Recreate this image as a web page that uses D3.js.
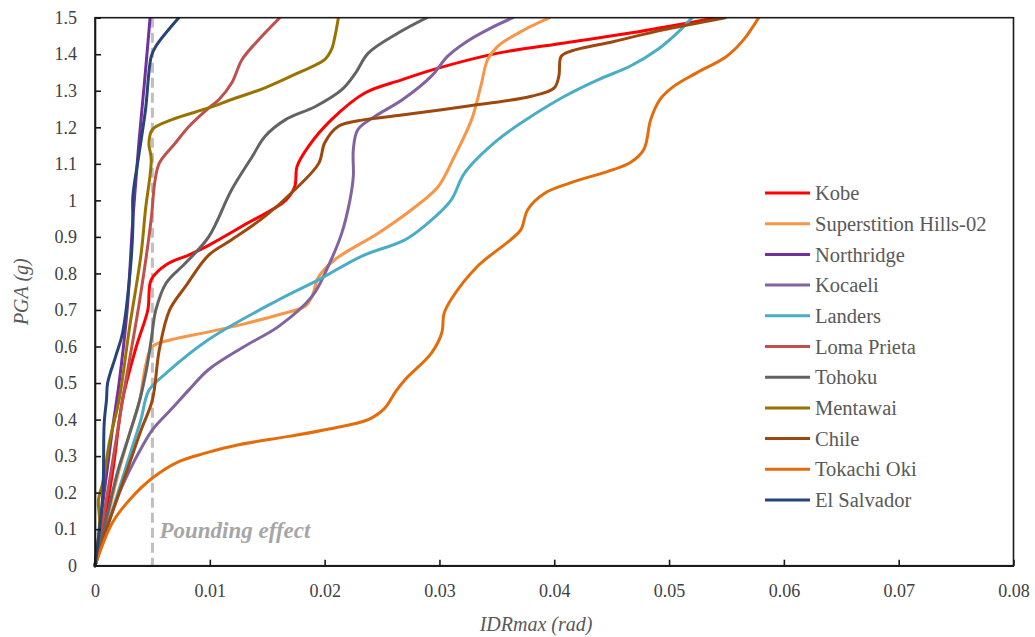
<!DOCTYPE html>
<html>
<head>
<meta charset="utf-8">
<script src="https://cdn.jsdelivr.net/npm/d3@7"></script>
<style>
  html, body { margin: 0; padding: 0; background: #fff; }
  svg { display: block; }
</style>
</head>
<body>
<svg id="chart" width="1035" height="637"></svg>
<script>
// ---------- data ----------
const seriesNames = ["Kobe", "Superstition Hills-02", "Northridge", "Kocaeli", "Landers",
  "Loma Prieta", "Tohoku", "Mentawai", "Chile", "Tokachi Oki", "El Salvador"];
const seriesColors = ["#FF0000", "#F79646", "#7030A0", "#8064A2", "#4BACC6",
  "#C0504D", "#636363", "#997300", "#9E480E", "#E46C0A", "#264478"];

const kobe = [[0,0],[0.0008,0.12],[0.0016,0.27],[0.0024,0.454],[0.0036,0.60],[0.0046,0.70],[0.0049,0.783],[0.0062,0.824],[0.0082,0.851],[0.0099,0.877],[0.0128,0.929],[0.0166,1.0],[0.0174,1.038],[0.0176,1.093],[0.0186,1.148],[0.0206,1.221],[0.0235,1.294],[0.0267,1.33],[0.0299,1.362],[0.0351,1.403],[0.0409,1.431],[0.0466,1.458],[0.0542,1.5]];
const superstition = [[0,0],[0.001,0.12],[0.002,0.25],[0.003,0.36],[0.0039,0.454],[0.0044,0.546],[0.005,0.60],[0.0067,0.619],[0.0099,0.64],[0.013,0.662],[0.016,0.687],[0.0183,0.71],[0.0189,0.737],[0.0195,0.792],[0.0209,0.838],[0.0247,0.911],[0.0276,0.975],[0.0299,1.038],[0.0313,1.12],[0.0328,1.221],[0.0336,1.312],[0.0342,1.385],[0.0351,1.422],[0.0374,1.467],[0.0396,1.5]];
const northridge = [[0,0],[0.0008,0.2],[0.0015,0.37],[0.0021,0.5],[0.0028,0.7],[0.0033,0.95],[0.0038,1.15],[0.0043,1.32],[0.0048,1.5]];
const kocaeli = [[0,0],[0.001,0.1],[0.002,0.19],[0.003,0.26],[0.004,0.32],[0.005,0.372],[0.0067,0.43],[0.0082,0.482],[0.0099,0.537],[0.013,0.6],[0.016,0.655],[0.0189,0.737],[0.0203,0.819],[0.0215,0.911],[0.0222,1.0],[0.0225,1.066],[0.0225,1.139],[0.0229,1.194],[0.0244,1.23],[0.0268,1.276],[0.0293,1.34],[0.0307,1.394],[0.0322,1.431],[0.0345,1.472],[0.0364,1.5]];
const landers = [[0,0],[0.001,0.1],[0.002,0.2],[0.003,0.3],[0.004,0.4],[0.0047,0.48],[0.0062,0.527],[0.0099,0.619],[0.016,0.728],[0.0195,0.783],[0.0232,0.847],[0.027,0.892],[0.029,0.938],[0.031,1.0],[0.0322,1.075],[0.0351,1.166],[0.038,1.23],[0.0409,1.285],[0.0438,1.33],[0.0466,1.367],[0.049,1.413],[0.0507,1.458],[0.052,1.5]];
const lomaPrieta = [[0,0],[0.0012,0.22],[0.0024,0.454],[0.0039,0.728],[0.0049,0.95],[0.0052,1.048],[0.0056,1.102],[0.007,1.157],[0.0082,1.203],[0.0098,1.25],[0.0108,1.276],[0.0119,1.321],[0.0128,1.385],[0.014,1.431],[0.0161,1.5]];
const tohoku = [[0,0],[0.001,0.13],[0.002,0.26],[0.003,0.36],[0.0039,0.454],[0.0045,0.54],[0.0049,0.619],[0.0053,0.70],[0.0062,0.774],[0.0079,0.829],[0.0099,0.90],[0.0119,1.029],[0.0137,1.12],[0.0148,1.175],[0.0166,1.221],[0.0192,1.257],[0.0215,1.303],[0.0227,1.349],[0.0238,1.403],[0.0264,1.458],[0.0289,1.5]];
const mentawai = [[0,0],[0.0004,0.12],[0.0003,0.18],[0.0007,0.23],[0.0013,0.345],[0.0021,0.454],[0.003,0.65],[0.004,0.85],[0.0044,0.975],[0.0049,1.111],[0.0047,1.157],[0.005,1.194],[0.0067,1.221],[0.0099,1.253],[0.0119,1.276],[0.0148,1.308],[0.0177,1.349],[0.02,1.385],[0.0206,1.413],[0.0209,1.449],[0.0212,1.5]];
const chile = [[0,0],[0.001,0.1],[0.002,0.19],[0.003,0.28],[0.004,0.37],[0.005,0.454],[0.0056,0.591],[0.0065,0.70],[0.0079,0.765],[0.0099,0.85],[0.0119,0.892],[0.0148,0.956],[0.0174,1.029],[0.0195,1.102],[0.02,1.157],[0.0212,1.203],[0.0235,1.221],[0.0264,1.232],[0.0322,1.257],[0.038,1.285],[0.04,1.308],[0.0404,1.34],[0.0406,1.394],[0.0414,1.408],[0.0452,1.435],[0.0495,1.467],[0.0549,1.5]];
const tokachiOki = [[0,0],[0.0015,0.117],[0.003,0.18],[0.005,0.24],[0.0073,0.285],[0.0096,0.308],[0.0125,0.331],[0.0169,0.354],[0.0205,0.375],[0.0238,0.40],[0.0252,0.43],[0.0262,0.477],[0.027,0.509],[0.0293,0.582],[0.0302,0.637],[0.0304,0.69],[0.031,0.728],[0.0333,0.819],[0.0362,0.892],[0.0371,0.92],[0.0377,0.975],[0.0392,1.02],[0.0414,1.048],[0.0466,1.103],[0.0478,1.139],[0.0484,1.221],[0.0492,1.276],[0.0504,1.312],[0.0524,1.349],[0.055,1.394],[0.0565,1.44],[0.0578,1.5]];
const elSalvador = [[0,0],[0.0004,0.1],[0.0007,0.208],[0.0008,0.39],[0.001,0.454],[0.0011,0.5],[0.0018,0.573],[0.0024,0.637],[0.0031,0.819],[0.0033,0.929],[0.0033,1.011],[0.0038,1.12],[0.0044,1.248],[0.0049,1.394],[0.0053,1.422],[0.0073,1.5]];

const seriesValues = [kobe, superstition, northridge, kocaeli, landers, lomaPrieta, tohoku, mentawai, chile, tokachiOki, elSalvador];

const xTicks = [0, 0.01, 0.02, 0.03, 0.04, 0.05, 0.06, 0.07, 0.08];
const yTicks = [0, 0.1, 0.2, 0.3, 0.4, 0.5, 0.6, 0.7, 0.8, 0.9, 1, 1.1, 1.2, 1.3, 1.4, 1.5];
const poundingX = 0.005;
const poundingLabel = "Pounding effect";
const xTitle = "IDRmax (rad)";
const yTitle = "PGA (g)";

// ---------- layout ----------
const svg = d3.select("#chart");
const pL = 95, pR = 1013.5, pT = 17.7, pB = 565.7;
const x = d3.scaleLinear().domain([0, 0.08]).range([pL, pR]);
const y = d3.scaleLinear().domain([0, 1.5]).range([pB, pT]);
const font = "'Liberation Serif', 'Times New Roman', serif";

// pounding dashed line (behind curves)
svg.append("line")
  .attr("x1", x(poundingX)).attr("x2", x(poundingX))
  .attr("y1", y(1.5)).attr("y2", y(0))
  .attr("stroke", "#BFBFBF").attr("stroke-width", 3)
  .attr("stroke-dasharray", "10,5");

// curves
const line = d3.line().x(d => x(d[0])).y(d => y(d[1])).curve(d3.curveCatmullRom.alpha(0.5));
svg.append("clipPath").attr("id", "plotclip")
  .append("rect").attr("x", pL - 3).attr("y", pT).attr("width", pR - pL + 6).attr("height", pB - pT + 3);
const g = svg.append("g").attr("clip-path", "url(#plotclip)");
seriesValues.forEach((vals, i) => {
  g.append("path").datum(vals)
    .attr("d", line)
    .attr("fill", "none")
    .attr("stroke", seriesColors[i])
    .attr("stroke-width", 3)
    .attr("stroke-linejoin", "round")
    .attr("stroke-linecap", "round");
});

// frame
svg.append("rect").attr("x", pL).attr("y", pT).attr("width", pR - pL).attr("height", pB - pT)
  .attr("fill", "none").attr("stroke", "#1a1a1a").attr("stroke-width", 1.6);

// axes
const xAxis = d3.axisBottom(x).tickValues(xTicks).tickSizeInner(-6).tickSizeOuter(0).tickPadding(19)
  .tickFormat(d => d === 0 ? "0" : d3.format(".2f")(d));
const gx = svg.append("g").attr("transform", `translate(0,${pB})`).call(xAxis);
const yAxis = d3.axisLeft(y).tickValues(yTicks).tickSizeInner(-6).tickSizeOuter(0).tickPadding(18)
  .tickFormat(d => d3.format("~g")(d));
const gy = svg.append("g").attr("transform", `translate(${pL},0)`).call(yAxis);
[gx, gy].forEach(ax => {
  ax.attr("font-family", font);
  ax.select(".domain").attr("stroke", "#1a1a1a").attr("stroke-width", 1.6);
  ax.selectAll(".tick line").attr("stroke", "#1a1a1a").attr("stroke-width", 1.6);
  ax.selectAll(".tick text").attr("font-family", font).attr("font-size", 18).attr("fill", "#404040");
});

// axis titles
svg.append("text").attr("x", 536).attr("y", 631)
  .attr("text-anchor", "middle").attr("font-family", font).attr("font-style", "italic")
  .attr("font-size", 20).attr("fill", "#595959").text(xTitle);
svg.append("text").attr("transform", `translate(28,${(pT + pB) / 2}) rotate(-90)`)
  .attr("text-anchor", "middle").attr("font-family", font).attr("font-style", "italic")
  .attr("font-size", 20).attr("fill", "#595959").text(yTitle);

// pounding label
svg.append("text").attr("x", x(poundingX) + 7).attr("y", 538)
  .attr("font-family", font).attr("font-style", "italic").attr("font-weight", "bold")
  .attr("font-size", 23).attr("fill", "#A6A6A6").text(poundingLabel);

// legend
const legend = svg.append("g");
seriesNames.forEach((name, i) => {
  const ly = 193 + i * 30.7;
  legend.append("line").attr("x1", 765).attr("x2", 810).attr("y1", ly).attr("y2", ly)
    .attr("stroke", seriesColors[i]).attr("stroke-width", 3);
  legend.append("text").attr("x", 815).attr("y", ly).attr("dy", "0.35em")
    .attr("font-family", font).attr("font-size", 20.5).attr("fill", "#595959").text(name);
});
</script>
</body>
</html>
